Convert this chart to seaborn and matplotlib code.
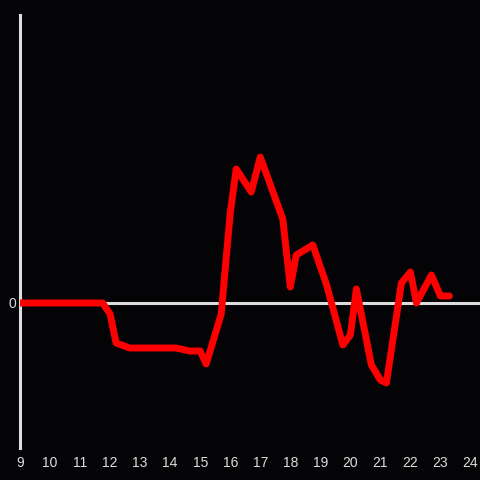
import matplotlib
matplotlib.use("Agg")
import matplotlib.pyplot as plt
import seaborn as sns
import pandas as pd

hours = [9.0, 11.75, 12.0, 12.2, 12.65, 14.2, 14.65, 15.0, 15.2, 15.7, 16.0, 16.2,
         16.7, 17.0, 17.75, 18.0, 18.2, 18.75, 19.2, 19.75, 20.0, 20.2, 20.7, 21.0,
         21.2, 21.7, 22.0, 22.2, 22.7, 23.0, 23.3]
values = [0.0, 0.0, -1.1, -4.0, -4.5, -4.5, -4.8, -4.8, -6.1, -1.1, 9.0, 13.4,
          11.1, 14.6, 8.4, 1.6, 4.8, 5.8, 1.9, -4.2, -3.2, 1.4, -6.2, -7.7,
          -8.0, 2.0, 3.1, 0.0, 2.8, 0.7, 0.7]
xticks = list(range(9, 25))

bg = "#040306"
fg = "#dddddd"

sns.set_theme(style="dark")
plt.rcParams["font.family"] = ["Liberation Sans", "DejaVu Sans"]

fig = plt.figure(figsize=(4.8, 4.8), dpi=100, facecolor=bg)
ax = fig.add_axes([20 / 480, 32 / 480, 460 / 480, 433 / 480])
ax.set_facecolor(bg)

df = pd.DataFrame({"hour": hours, "value": values})
ax.axhline(0, color=fg, lw=2.2, zorder=1)
sns.lineplot(data=df, x="hour", y="value", ax=ax, color="#ff0000", lw=5, zorder=3)

ax.set_xlim(9, 9 + 459.5 / 30)
ax.set_ylim(-14.5, 28.8)
ax.set_xticks(xticks)
ax.set_xticklabels([str(t) for t in xticks])
ax.set_yticks([0])
ax.set_yticklabels(["0"])
ax.tick_params(axis="both", colors=fg, labelsize=10, length=0)
ax.tick_params(axis="x", pad=6)
ax.tick_params(axis="y", pad=3)
ax.set_xlabel("")
ax.set_ylabel("")
ax.grid(False)
for s in ["top", "right", "bottom"]:
    ax.spines[s].set_visible(False)
ax.spines["left"].set_color(fg)
ax.spines["left"].set_linewidth(2.2)
ax.spines["left"].set_zorder(2)

fig.savefig("out.png", dpi=100, facecolor=bg)
